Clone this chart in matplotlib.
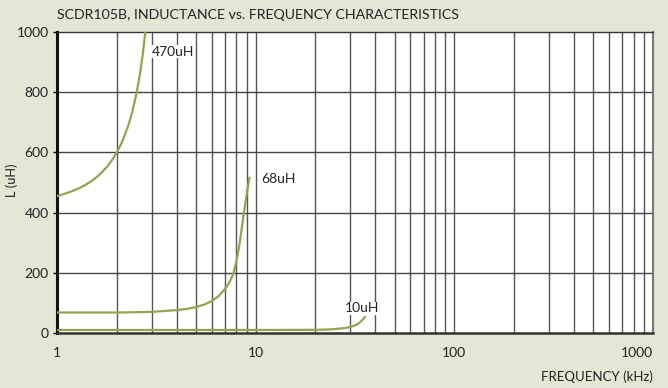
import numpy as np
import matplotlib.pyplot as plt

plt.rcParams['font.family'] = ['Lato', 'DejaVu Sans']

# values
freq_470 = [1, 1.1, 1.2, 1.3, 1.4, 1.5, 1.6, 1.7, 1.8, 1.9, 2.0,
            2.1, 2.2, 2.3, 2.4, 2.5, 2.6, 2.7, 2.8]
l_470 = [455, 463, 472, 482, 493, 506, 520, 537, 555, 576, 600,
         627, 659, 695, 738, 789, 849, 923, 1014]

freq_68 = [1, 2, 3, 4, 4.5, 5, 5.5, 6, 6.5, 7, 7.25, 7.5, 7.75,
           8, 8.25, 8.5, 8.75, 9, 9.15, 9.3]
l_68 = [68, 68, 70, 76, 80, 86, 94, 106, 122, 146, 160, 178, 200,
        238, 285, 345, 405, 458, 488, 515]

freq_10 = [1, 10, 20, 23, 25, 27, 29, 31, 32.5, 34, 35.5]
l_10 = [10, 10, 10.5, 11.5, 13, 15, 18, 23, 29, 39, 53]

labels = ['470uH', '68uH', '10uH']
y_ticks = [0, 200, 400, 600, 800, 1000]
x_ticks = [1, 10, 100, 1000]

bg = '#e6e6d4'
curve = '#99a052'

fig = plt.figure(figsize=(6.68, 3.88), dpi=100, facecolor=bg)
ax = fig.add_axes([0.0853, 0.1418, 0.8922, 0.7757])
ax.set_facecolor('white')

ax.set_xscale('log')
ax.set_xlim(1, 1000)
ax.set_ylim(0, 1000)

# grid
for d in [1, 10, 100]:
    for m in range(2, 11):
        ax.axvline(d * m, color='#555555', lw=1.0, zorder=1)
for v in y_ticks[1:-1]:
    ax.axhline(v, color='#444444', lw=1.0, zorder=1)

ax.plot(freq_470, l_470, color=curve, lw=1.6, zorder=3)
ax.plot(freq_68, l_68, color=curve, lw=1.6, zorder=3)
ax.plot(freq_10, l_10, color=curve, lw=1.6, zorder=3)

ax.text(3.0, 935, labels[0], fontsize=10, va='center', ha='left', color='#222222',
        bbox=dict(facecolor='white', edgecolor='none', pad=0.5), zorder=4)
ax.text(10.7, 510, labels[1], fontsize=10, va='center', ha='left', color='#222222',
        bbox=dict(facecolor='white', edgecolor='none', pad=0.5), zorder=4)
ax.text(28, 82, labels[2], fontsize=10, va='center', ha='left', color='#222222',
        bbox=dict(facecolor='white', edgecolor='none', pad=0.5), zorder=4)

ax.set_yticks(y_ticks)
ax.set_yticklabels([str(v) for v in y_ticks], fontsize=10, color='#222222')
ax.set_xticks(x_ticks)
ax.set_xticklabels([str(v) for v in x_ticks], fontsize=10, color='#222222')
ax.xaxis.set_minor_locator(plt.NullLocator())
ax.tick_params(axis='x', length=0, pad=10)
ax.tick_params(axis='y', length=3, width=1, pad=3)
ax.get_xticklabels()[-1].set_horizontalalignment('right')

ax.spines['left'].set_linewidth(2.2)
ax.spines['left'].set_color('#111111')
ax.spines['bottom'].set_linewidth(1.8)
ax.spines['bottom'].set_color('#333333')
ax.spines['top'].set_linewidth(1.0)
ax.spines['top'].set_color('#333333')
ax.spines['right'].set_linewidth(1.5)
ax.spines['right'].set_color('#777777')

fig.text(0.0853, 0.962, 'SCDR105B, INDUCTANCE vs. FREQUENCY CHARACTERISTICS',
         fontsize=10.2, ha='left', va='center', color='#222222')
fig.text(0.9775, 0.028, 'FREQUENCY (kHz)', fontsize=9.5, ha='right', va='center', color='#222222')
fig.text(0.018, 0.535, 'L (uH)', fontsize=9.2, ha='center', va='center', rotation=90, color='#222222')

fig.savefig('out.png', dpi=100, facecolor=bg)
